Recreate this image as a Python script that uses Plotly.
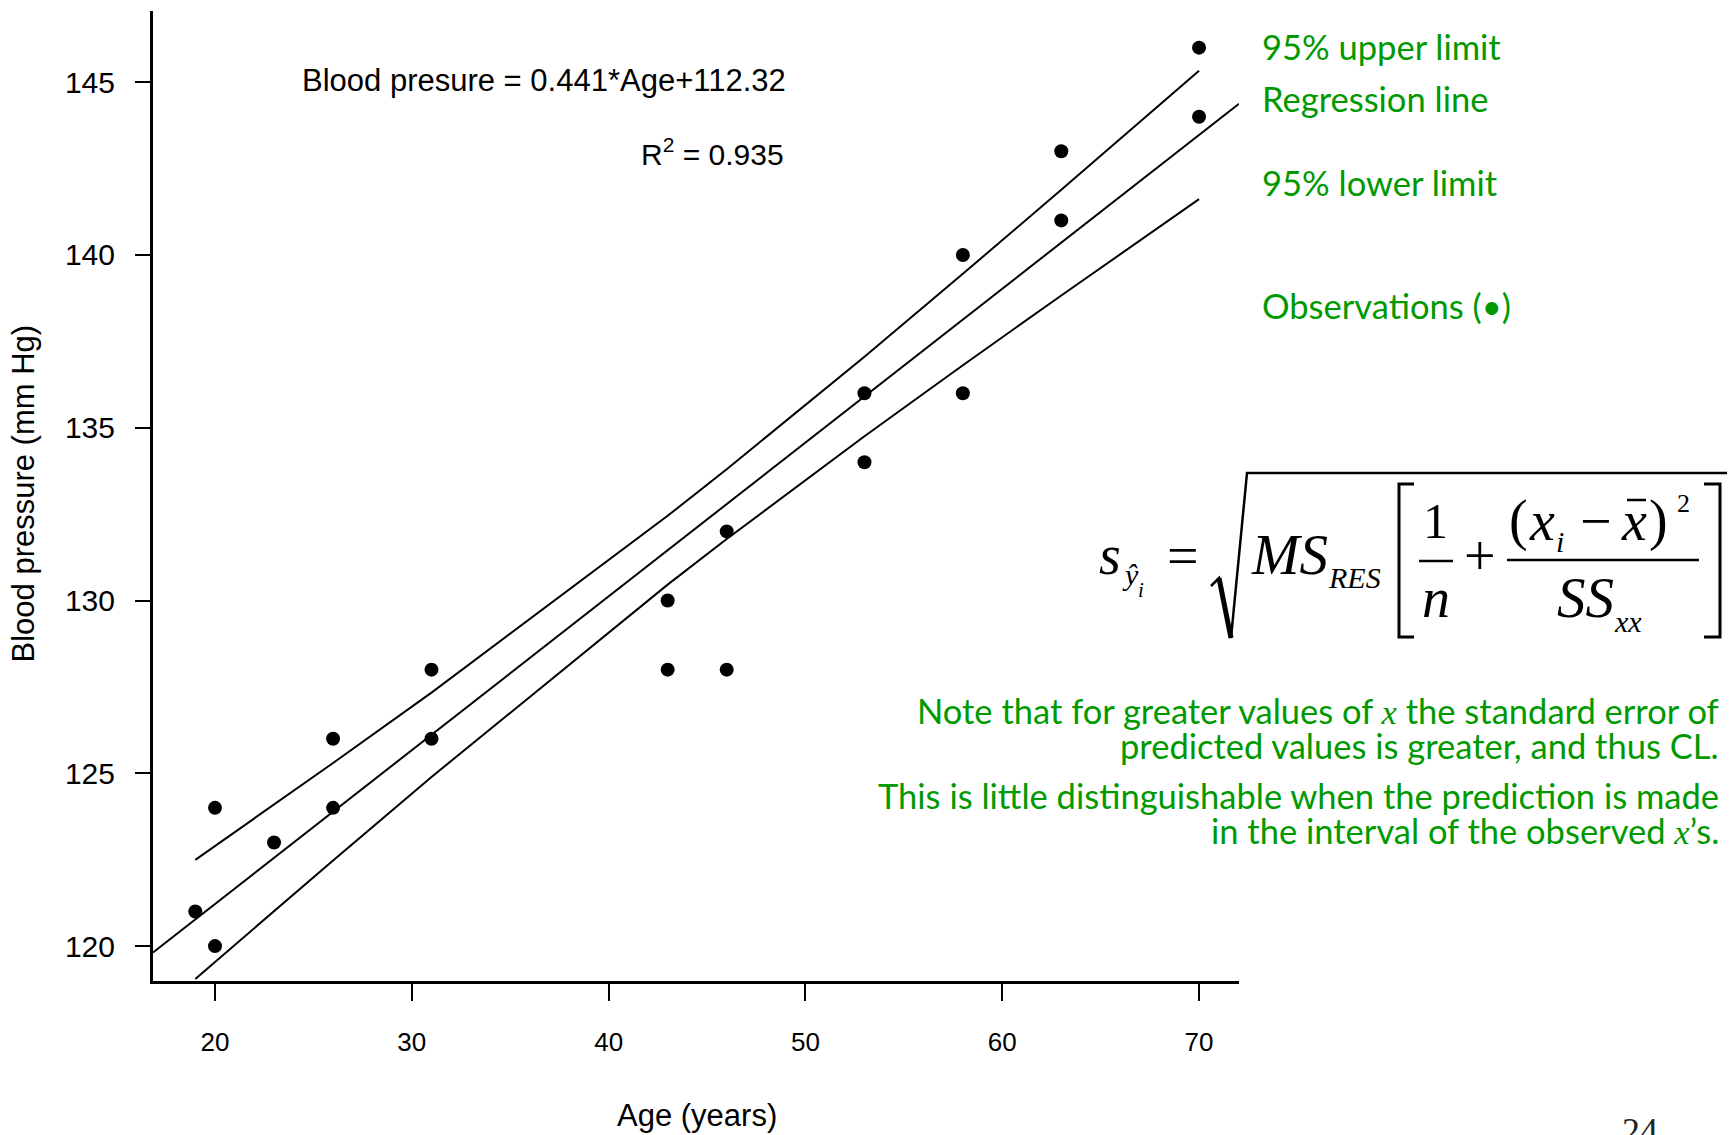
import numpy as np
import plotly.graph_objects as go

# ---------------- data ----------------
age = [19, 20, 20, 23, 26, 26, 31, 31, 43, 43, 46, 46, 53, 53, 58, 58, 63, 63, 70, 70]
blood_pressure = [121, 124, 120, 123, 126, 124, 128, 126, 130, 128,
                  132, 128, 136, 134, 140, 136, 143, 141, 146, 144]
x_ticks = [20, 30, 40, 50, 60, 70]
y_ticks = [120, 125, 130, 135, 140, 145]
x_range = [16.85, 72.03]
y_range = [118.99, 147.06]
t_crit = 2.101  # Student t, 0.975 quantile, df = 18

# ---------------- statistics from the observations ----------------
x = np.array(age, float)
y = np.array(blood_pressure, float)
n = len(x)
slope, intercept = np.polyfit(x, y, 1)
xbar = x.mean()
sxx = ((x - xbar) ** 2).sum()
ms_res = ((y - (intercept + slope * x)) ** 2).sum() / (n - 2)
band_x = np.unique(x)
band_fit = intercept + slope * band_x
half = t_crit * np.sqrt(ms_res * (1.0 / n + (band_x - xbar) ** 2 / sxx))
upper = band_fit + half
lower = band_fit - half
reg_x = np.array(x_range)
reg_y = intercept + slope * reg_x

# ---------------- figure ----------------
W, H = 1735, 1135
L, R, T, B = 153, 496, 11, 154
PW, PH = W - L - R, H - T - B

fig = go.Figure()
line_style = dict(color="black", width=2)
fig.add_trace(go.Scatter(x=reg_x, y=reg_y, mode="lines", line=line_style, hoverinfo="skip"))
fig.add_trace(go.Scatter(x=band_x, y=upper, mode="lines", line=line_style, hoverinfo="skip"))
fig.add_trace(go.Scatter(x=band_x, y=lower, mode="lines", line=line_style, hoverinfo="skip"))
fig.add_trace(go.Scatter(x=age, y=blood_pressure, mode="markers",
                         marker=dict(color="black", size=14, line=dict(width=0))))


def px(v):
    return (v - L) / PW


def py(v):
    return (H - B - v) / PH


FAM = {"sans": "Liberation Sans, Arial, sans-serif",
       "serif": "Liberation Serif, Times New Roman, serif",
       "lato": "Lato, Calibri, sans-serif"}
DESC = {"sans": 0.212, "serif": 0.216, "lato": 0.213}
GREEN = "#009900"
ann = []


def text(xp, base, s, size, fam, xanchor="left", color="black"):
    ann.append(dict(x=px(xp), y=py(base + DESC[fam] * size), xref="paper", yref="paper",
                    text=s, showarrow=False, xanchor=xanchor, yanchor="bottom",
                    borderpad=0, font=dict(family=FAM[fam], size=size, color=color)))


# equation and R^2
text(301, 92, "Blood presure = 0.441*Age+112.32", 31, "sans")
text(785, 166, "R<sup>2</sup> = 0.935", 30, "sans", xanchor="right")

# axis titles
text(697, 1127, "Age (years)", 31, "sans", xanchor="center")
ann.append(dict(x=px(41), y=py(494), xref="paper", yref="paper", text="Blood pressure (mm Hg)",
                textangle=-90, showarrow=False, xanchor="right", yanchor="middle", borderpad=0,
                font=dict(family=FAM["sans"], size=31, color="black")))

# green labels
GS = 34.5
text(1261, 61, "95% upper limit", GS, "lato", color=GREEN)
text(1261, 113, "Regression line", GS, "lato", color=GREEN)
text(1261, 197, "95% lower limit", GS, "lato", color=GREEN)
text(1261, 320, "Observations (•)", GS, "lato", color=GREEN)

xi = "<i><span style='font-family:Liberation Serif'>x</span></i>"
text(1720, 725, "Note that for greater values of " + xi + " the standard error of", GS, "lato",
     xanchor="right", color=GREEN)
text(1720, 760, "predicted values is greater, and thus CL.", GS, "lato", xanchor="right", color=GREEN)
text(1720, 810, "This is little distinguishable when the prediction is made", GS, "lato",
     xanchor="right", color=GREEN)
text(1720, 845, "in the interval of the observed " + xi + "’s.", GS, "lato", xanchor="right", color=GREEN)

# formula
text(1098, 575, "<i>s</i>", 56, "serif")
text(1121, 586, "<i>ŷ</i>", 30, "serif")
text(1137, 598, "<i>i</i>", 21, "serif")
text(1183, 576, "=", 56, "serif", xanchor="center")
text(1250, 575, "<i>MS</i>", 57, "serif")
text(1327, 589, "<i>RES</i>", 30, "serif")
text(1435, 539, "1", 50, "serif", xanchor="center")
text(1436, 618, "<i>n</i>", 56, "serif", xanchor="center")
text(1480, 576, "+", 56, "serif", xanchor="center")
text(1508, 541, "(", 56, "serif")
text(1528, 541, "<i>x</i>", 56, "serif")
text(1555, 553, "<i>i</i>", 30, "serif")
text(1596, 541, "−", 56, "serif", xanchor="center")
text(1620, 541, "<i>x</i>", 56, "serif")
text(1648, 541, ")", 56, "serif")
text(1676, 513, "2", 26, "serif")
text(1556, 618, "<i>SS</i>", 57, "serif")
text(1613, 633, "<i>xx</i>", 30, "serif")

# page number
text(1640, 1144, "24", 36, "serif", xanchor="center", color="#222222")


def path(points):
    return "M " + " L ".join(f"{px(a):.5f},{py(b):.5f}" for a, b in points)


shapes = []
for pts, w in [([(1211, 586), (1219, 578), (1231, 638), (1247, 473), (1727, 473)], 2.5),
               ([(1219, 578), (1231, 638)], 5),
               ([(1414, 484), (1399, 484), (1399, 637), (1414, 637)], 3),
               ([(1704, 484), (1720, 484), (1720, 637), (1704, 637)], 3),
               ([(1419, 561), (1453, 561)], 2.5),
               ([(1507, 560), (1699, 560)], 2.5),
               ([(1627, 500), (1646, 500)], 2.5)]:
    shapes.append(dict(type="path", path=path(pts), xref="paper", yref="paper",
                       line=dict(color="black", width=w)))

axis_common = dict(showgrid=False, zeroline=False, showline=True, linecolor="black", linewidth=3,
                   ticks="outside", tickcolor="black", tickwidth=2, mirror=False)
fig.update_layout(
    width=W, height=H,
    margin=dict(l=L, r=R, t=T, b=B),
    paper_bgcolor="white", plot_bgcolor="white",
    showlegend=False,
    xaxis=dict(range=x_range, tickvals=x_ticks, ticklen=17, ticklabelstandoff=19,
               tickfont=dict(family=FAM["sans"], size=26, color="black"), **axis_common),
    yaxis=dict(range=y_range, tickvals=y_ticks, ticklen=15, ticklabelstandoff=14,
               tickfont=dict(family=FAM["sans"], size=30, color="black"), **axis_common),
    annotations=ann,
    shapes=shapes,
)

fig.write_html("out.html")
